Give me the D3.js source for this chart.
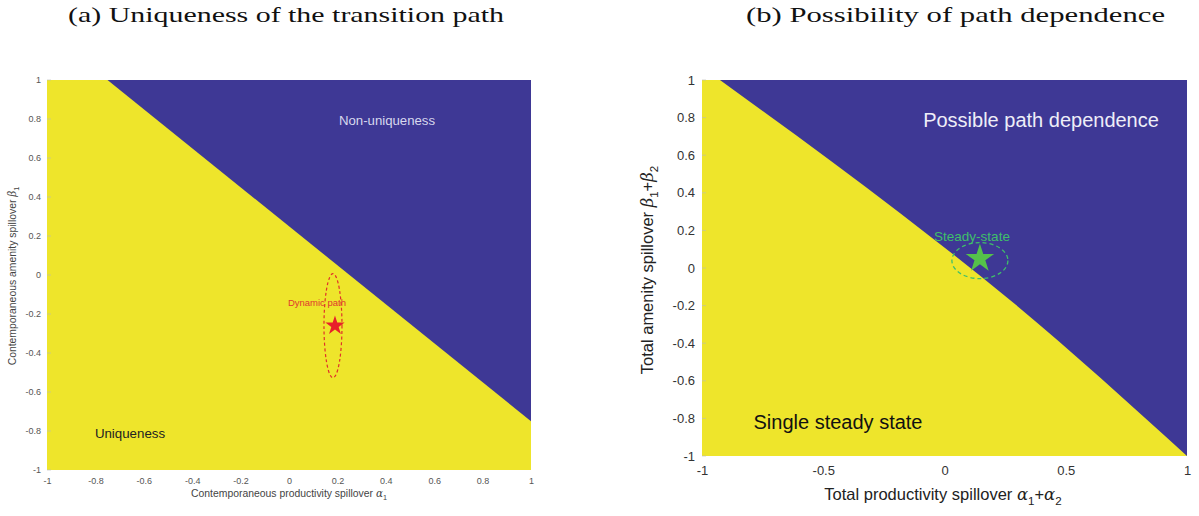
<!DOCTYPE html>
<html><head><meta charset="utf-8">
<script src="https://cdn.jsdelivr.net/npm/d3@7"></script>
<style>html,body{margin:0;padding:0;background:#fff;}svg{display:block;}</style>
</head><body>
<svg id="c" width="1199" height="516"></svg>
<script>
// ---- data ----
const leftYTicks = [-1,-0.8,-0.6,-0.4,-0.2,0,0.2,0.4,0.6,0.8,1];
const leftXTicks = [-1,-0.8,-0.6,-0.4,-0.2,0,0.2,0.4,0.6,0.8,1];
const rightYTicks = [-1,-0.8,-0.6,-0.4,-0.2,0,0.2,0.4,0.6,0.8,1];
const rightXTicks = [-1,-0.5,0,0.5,1];
const leftBoundary = [[-0.75,1],[1,-0.75]];          // uniqueness / non-uniqueness frontier
const rightBoundary = [[-0.926,1],[-0.184,0.293],[0.27,-0.17],[1,-1]];
const leftPoint = [0.19,-0.26];    // dynamic path star
const rightPoint = [0.146,0.05];   // steady state star
const titles = ["(a) Uniqueness of the transition path","(b) Possibility of path dependence"];

const YEL = "#eee52b", BLUE = "#3e3895";
const SANS = "Liberation Sans, Arial, sans-serif";
const svg = d3.select("#c");

function panel(o){
  const x = d3.scaleLinear().domain([-1,1]).range([o.x0,o.x1]);
  const y = d3.scaleLinear().domain([-1,1]).range([o.y1,o.y0]);
  const g = svg.append("g");
  g.append("rect").attr("x",o.x0).attr("y",o.y0).attr("width",o.x1-o.x0).attr("height",o.y1-o.y0).attr("fill",YEL);
  const edge = d3.line().x(d=>x(d[0])).y(d=>y(d[1])).curve(d3.curveMonotoneX)(o.boundary);
  g.append("path").attr("d", edge + `L${x(1)},${y(1)}Z`).attr("fill",BLUE);
  const fmt = d=>d3.format("")(d).replace("−","-");
  const ax = d3.axisBottom(x).tickValues(o.xt).tickFormat(fmt).tickSize(0).tickPadding(o.xpad);
  const ay = d3.axisLeft(y).tickValues(o.yt).tickFormat(fmt).tickSize(0).tickPadding(o.ypad);
  const gx = g.append("g").attr("transform",`translate(0,${o.y1})`).call(ax);
  const gy = g.append("g").attr("transform",`translate(${o.x0},0)`).call(ay);
  [gx,gy].forEach(a=>{a.select(".domain").remove();
    a.selectAll("text").attr("font-family",SANS).attr("font-size",o.fs).attr("fill",o.tc);});
  g.selectAll(".yt").data(o.yt).enter().append("line")
    .attr("x1",o.x0).attr("x2",o.x0+4).attr("y1",d=>y(d)).attr("y2",d=>y(d)).attr("stroke","#bbb").attr("stroke-width",0.6);
  return {x,y,g};
}

function label(g, txt, parts, x, y, fs, rotate, fill){
  const t = g.append("text").attr("font-family",SANS).attr("font-size",fs)
    .attr("fill",fill).attr("text-anchor","middle")
    .attr("transform",`translate(${x},${y})${rotate?" rotate(-90)":""}`);
  t.append("tspan").text(txt);
  parts.forEach(p=>{
    if(p.sub) t.append("tspan").attr("font-size",fs*0.7).attr("dy",fs*0.3).text(p.sub);
    else if(p.greek) t.append("tspan").attr("font-family","DejaVu Serif, serif").attr("font-style","italic").attr("dy",p.dy||0).text(p.greek);
    else t.append("tspan").attr("dy",p.dy||0).text(p.t);
  });
  return t;
}

// ---- left panel ----
const L = panel({x0:47,x1:531,y0:80,y1:470,boundary:leftBoundary,xt:leftXTicks,yt:leftYTicks,fs:9,tc:"#555",xpad:8,ypad:6});
label(L.g,"Contemporaneous productivity spillover ",[{greek:"α"},{sub:"1"}],289,497,10.4,false,"#444");
label(L.g,"Contemporaneous amenity spillover ",[{greek:"β"},{sub:"1"}],16,276,10.4,true,"#444");
L.g.append("text").attr("x",387).attr("y",125).attr("font-family",SANS)
  .attr("font-size",13.2).attr("fill","#d8d8ee").attr("text-anchor","middle").text("Non-uniqueness");
L.g.append("text").attr("x",130).attr("y",438).attr("font-family",SANS)
  .attr("font-size",13.3).attr("fill","#222").attr("text-anchor","middle").text("Uniqueness");
L.g.append("ellipse").attr("cx",L.x(leftPoint[0])-2).attr("cy",L.y(leftPoint[1])).attr("rx",9).attr("ry",52)
  .attr("fill","none").attr("stroke","#e0302a").attr("stroke-width",1.2).attr("stroke-dasharray","3,2.5");
L.g.append("path").attr("d",d3.symbol(d3.symbolStar,115)()).attr("transform",`translate(${L.x(leftPoint[0])},${L.y(leftPoint[1])})`).attr("fill","#e8202a");
L.g.append("text").attr("x",L.x(leftPoint[0])-18).attr("y",L.y(leftPoint[1])-20).attr("font-family",SANS)
  .attr("font-size",9.5).attr("fill","#e0382e").attr("text-anchor","middle").text("Dynamic path");

// ---- right panel ----
const R = panel({x0:702,x1:1187,y0:80,y1:456,boundary:rightBoundary,xt:rightXTicks,yt:rightYTicks,fs:13,tc:"#333",xpad:10,ypad:7});
label(R.g,"Total productivity spillover ",[{greek:"α"},{sub:"1"},{t:"+",dy:-5},{greek:"α"},{sub:"2"}],943,500,16.5,false,"#222");
label(R.g,"Total amenity spillover ",[{greek:"β"},{sub:"1"},{t:"+",dy:-5},{greek:"β"},{sub:"2"}],653,270,16.5,true,"#222");
R.g.append("text").attr("x",1041).attr("y",127).attr("font-family",SANS)
  .attr("font-size",20).attr("fill","#eeeef8").attr("text-anchor","middle").text("Possible path dependence");
R.g.append("text").attr("x",838).attr("y",429).attr("font-family",SANS)
  .attr("font-size",20).attr("fill","#111").attr("text-anchor","middle").text("Single steady state");
R.g.append("ellipse").attr("cx",R.x(rightPoint[0])).attr("cy",R.y(rightPoint[1])+2).attr("rx",28).attr("ry",18)
  .attr("fill","none").attr("stroke","#3fbf6a").attr("stroke-width",1.3).attr("stroke-dasharray","4,3");
R.g.append("path").attr("d",d3.symbol(d3.symbolStar,250)()).attr("transform",`translate(${R.x(rightPoint[0])},${R.y(rightPoint[1])})`).attr("fill","#55c24a");
R.g.append("text").attr("x",972).attr("y",241).attr("font-family",SANS)
  .attr("font-size",13.5).attr("fill","#3fbf6a").attr("text-anchor","middle").text("Steady-state");

// ---- titles ----
svg.selectAll(".title").data(titles).enter().append("text")
  .attr("x",(d,i)=>i?746:68).attr("y",22)
  .attr("font-family","Liberation Serif, Times New Roman, serif").attr("font-size",21).attr("fill","#111")
  .attr("textLength",(d,i)=>i?419:436).attr("lengthAdjust","spacingAndGlyphs").text(d=>d);
</script>
</body></html>
